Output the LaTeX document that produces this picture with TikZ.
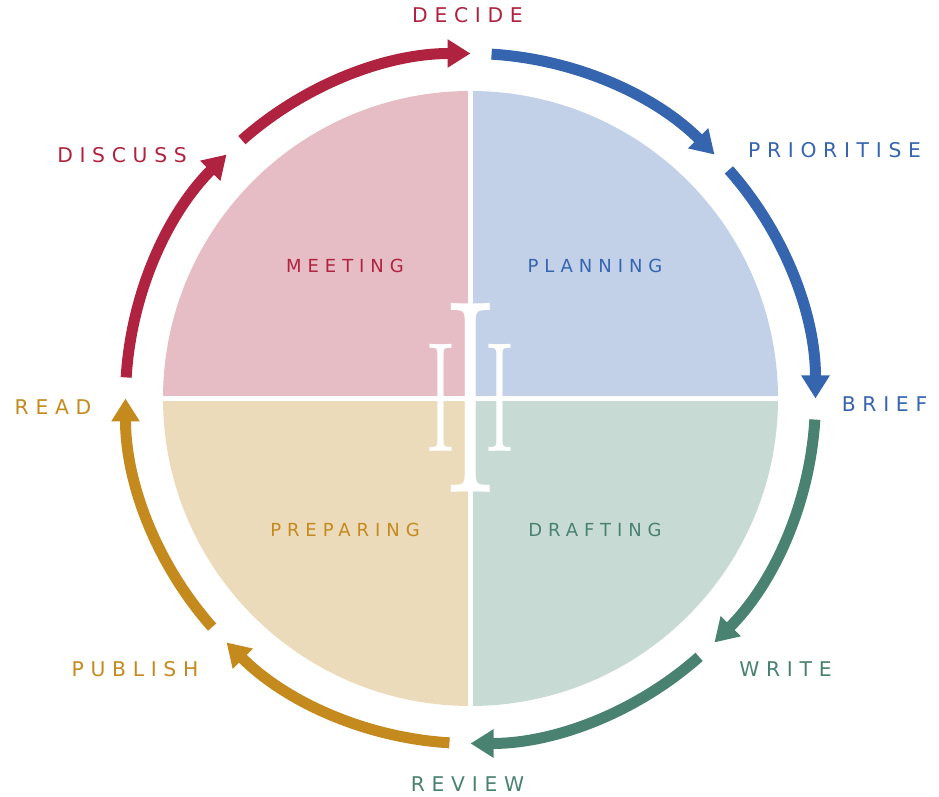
\documentclass[tikz,border=0pt]{standalone}
\usepackage{fontspec}
\usepackage{graphicx}
\newfontfamily\labelfont[LetterSpace=33]{DejaVu Sans}
\usetikzlibrary{arrows.meta}

\definecolor{meetred}{RGB}{176,35,64}
\definecolor{planblue}{RGB}{54,101,176}
\definecolor{draftgreen}{RGB}{74,130,114}
\definecolor{prepgold}{RGB}{196,138,30}
\definecolor{meetfill}{RGB}{230,188,197}
\definecolor{planfill}{RGB}{195,209,232}
\definecolor{draftfill}{RGB}{200,218,212}
\definecolor{prepfill}{RGB}{236,219,187}

\newcommand{\shortI}{\raisebox{41pt}{\fontsize{157}{157}\selectfont\scalebox{0.6}[1]{I}}}
\newcommand{\tallI}{{\fontsize{277}{277}\selectfont\scalebox{0.6}[1]{I}}}

\tikzset{
	steplabel/.style={inner sep=0, font=\labelfont\fontsize{20.3}{20.3}\selectfont},
	phaselabel/.style={inner sep=0, font=\labelfont\fontsize{18}{18}\selectfont},
	cyclearrow/.style={line width=11pt, -{Triangle[width=27pt,length=23pt]}},
	logo/.style={inner sep=0, white}
}

\begin{document}
\begin{tikzpicture}[x=1pt,y=1pt]
		\useasboundingbox (0,0) rectangle (939,797);
		\coordinate (C) at (470.5,398.5);

		% Quadrants
		\foreach \fillcol [count=\i from 0] in {planfill,meetfill,prepfill,draftfill}
			\fill[\fillcol] (C) -- ++(90*\i:307.5) arc[start angle=90*\i, end angle=90*\i+90, radius=307.5] -- cycle;
		\draw[white, line width=5pt] ([xshift=-310pt]C) -- ([xshift=310pt]C);
		\draw[white, line width=5pt] ([yshift=-310pt]C) -- ([yshift=310pt]C);

		% Logo
		\node[logo] (mark) at (470.5,399.5) {\shortI\kern-13pt\tallI\kern-13pt\shortI};

		% Arrows round the cycle
		\foreach \col [count=\i from 0] in {planblue,draftgreen,prepgold,meetred} {
			\pgfmathsetmacro\a{90-90*\i}
			\draw[cyclearrow, \col] ([shift={(\a-3.5:345)}]C) arc[start angle=\a-3.5, end angle=\a-45, radius=345];
			\draw[cyclearrow, \col] ([shift={(\a-48.5:345)}]C) arc[start angle=\a-48.5, end angle=\a-90, radius=345];
		}

		% Phase labels
		\node[phaselabel, meetred] (meeting) at (345,531) {MEETING};
		\node[phaselabel, planblue] (planning) at (595,531) {PLANNING};
		\node[phaselabel, prepgold] (preparing) at (345,267) {PREPARING};
		\node[phaselabel, draftgreen] (drafting) at (595,267) {DRAFTING};

		% Step labels
		\node[steplabel, meetred] (decide) at (467.5,782) {DECIDE};
		\node[steplabel, planblue] (prioritise) at (834.5,647) {PRIORITISE};
		\node[steplabel, planblue] (brief) at (884.5,392.5) {BRIEF};
		\node[steplabel, draftgreen] (write) at (785.5,128) {WRITE};
		\node[steplabel, draftgreen] (review) at (467.5,12.5) {REVIEW};
		\node[steplabel, prepgold] (publish) at (135,128) {PUBLISH};
		\node[steplabel, prepgold] (read) at (53,390) {READ};
		\node[steplabel, meetred] (discuss) at (122,642) {DISCUSS};
	\end{tikzpicture}
\end{document}
